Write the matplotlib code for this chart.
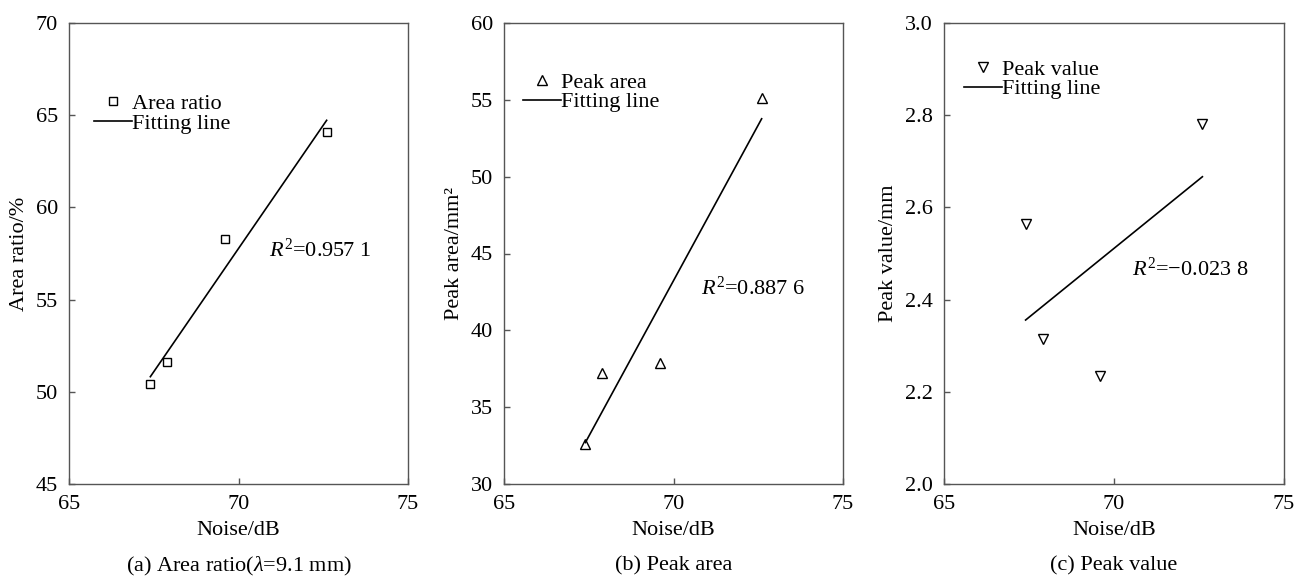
import numpy as np
import matplotlib
matplotlib.use("Agg")
import matplotlib.pyplot as plt

plt.rcParams["font.family"] = ["Liberation Serif", "DejaVu Serif"]
plt.rcParams["mathtext.fontset"] = "custom"
plt.rcParams["mathtext.rm"] = "Liberation Serif"
plt.rcParams["mathtext.it"] = "Liberation Serif:italic"

# data
noise = [67.4, 67.9, 69.6, 72.6]
area_ratio = [50.4, 51.6, 58.3, 64.1]
peak_area = [32.6, 37.2, 37.9, 55.1]
peak_value = [2.565, 2.315, 2.235, 2.78]

r2_labels = ["0.957 1", "0.887 6", "\u22120.023 8"]
series_names = ["Area ratio", "Peak area", "Peak value"]
ylabels = ["Area ratio/%", "Peak area/mm\u00b2", "Peak value/mm"]
captions = [r"(a) Area ratio($\mathit{\lambda}$=9.1 mm)", "(b) Peak area", "(c) Peak value"]
ylims = [(45, 70), (30, 60), (2.0, 3.0)]
yticks = [np.arange(45, 71, 5), np.arange(30, 61, 5), np.arange(2.0, 3.01, 0.2)]
markers = ["s", "^", "v"]
msizes = [6, 7, 7]

FS = 16
fig = plt.figure(figsize=(12.95, 5.78), dpi=100)

lefts = [69 / 1295, 504 / 1295, 944 / 1295]
widths = [339 / 1295, 339 / 1295, 340 / 1295]
bottom, height = 94 / 578, 461 / 578
leg_xy = [(0.074, 0.847), (0.057, 0.893), (0.059, 0.921)]
r2_xy = [(0.590, 0.507), (0.580, 0.425), (0.552, 0.465)]

for i, yvals in enumerate([area_ratio, peak_area, peak_value]):
    ax = fig.add_axes([lefts[i], bottom, widths[i], height])
    ax.plot(noise, yvals, linestyle="none", marker=markers[i], markersize=msizes[i],
            markerfacecolor="white", markeredgecolor="black", markeredgewidth=1.0,
            label=series_names[i])
    k, b = np.polyfit(noise, yvals, 1)
    xf = np.array([min(noise), max(noise)])
    ax.plot(xf, k * xf + b, color="black", lw=1.2, label="Fitting line")

    ax.set_xlim(65, 75)
    ax.set_xticks([65, 70, 75])
    ax.set_ylim(*ylims[i])
    ax.set_yticks(yticks[i])
    if i == 2:
        ax.set_yticklabels([f"{v:.1f}" for v in yticks[i]])
    ax.tick_params(direction="in", length=4, width=1, color="#555555",
                   labelsize=FS, top=False, right=False)
    ax.tick_params(axis="x", pad=8)
    ax.tick_params(axis="y", pad=8)
    for s in ax.spines.values():
        s.set_color("#555555")
        s.set_linewidth(1.0)

    ax.set_xlabel("Noise/dB", fontsize=FS, labelpad=5)
    ax.set_ylabel(ylabels[i], fontsize=FS, labelpad=5)

    ax.legend(loc="upper left", bbox_to_anchor=leg_xy[i], frameon=False,
              fontsize=FS, borderpad=0, borderaxespad=0, labelspacing=-0.05,
              handlelength=1.7, handletextpad=0.0)
    ax.text(r2_xy[i][0], r2_xy[i][1], r"$\mathit{R}^{\mathrm{2}}$=" + r2_labels[i],
            transform=ax.transAxes, fontsize=FS, ha="left", va="center")

    fig.text(lefts[i] + widths[i] / 2, 1 - 566 / 578, captions[i],
             fontsize=FS, ha="center", va="center")

fig.savefig("out.png", dpi=100)
